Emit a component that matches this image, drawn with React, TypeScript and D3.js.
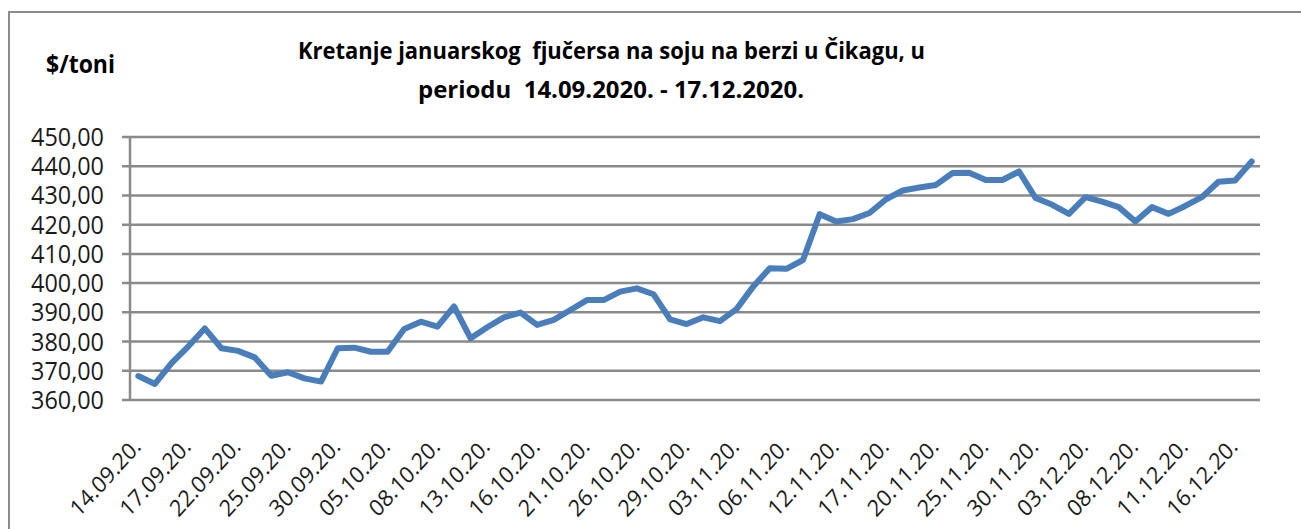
import React from "react";
import * as d3 from "d3";

const dates: string[] = [
  "14.09.20.", "15.09.20.", "16.09.20.", "17.09.20.", "18.09.20.", "21.09.20.", "22.09.20.", "23.09.20.", "24.09.20.", "25.09.20.",
  "28.09.20.", "29.09.20.", "30.09.20.",
  "01.10.20.", "02.10.20.", "05.10.20.", "06.10.20.", "07.10.20.", "08.10.20.", "09.10.20.", "12.10.20.", "13.10.20.", "14.10.20.",
  "15.10.20.", "16.10.20.", "19.10.20.", "20.10.20.", "21.10.20.", "22.10.20.", "23.10.20.", "26.10.20.", "27.10.20.", "28.10.20.",
  "29.10.20.", "30.10.20.",
  "02.11.20.", "03.11.20.", "04.11.20.", "05.11.20.", "06.11.20.", "09.11.20.", "10.11.20.", "12.11.20.", "13.11.20.", "16.11.20.",
  "17.11.20.", "18.11.20.", "19.11.20.", "20.11.20.", "23.11.20.", "24.11.20.", "25.11.20.", "26.11.20.", "27.11.20.", "30.11.20.",
  "01.12.20.", "02.12.20.", "03.12.20.", "04.12.20.", "07.12.20.", "08.12.20.", "09.12.20.", "10.12.20.", "11.12.20.", "14.12.20.",
  "15.12.20.", "16.12.20.", "17.12.20.",
];

const prices: number[] = [
  368.2, 365.5, 372.6, 378.3, 384.5, 377.7, 376.8, 374.6, 368.3, 369.5,
  367.4, 366.3, 377.7, 377.9, 376.5, 376.5, 384.3, 386.8, 385.1, 392.0,
  381.1, 384.9, 388.3, 389.9, 385.7, 387.4, 390.8, 394.2, 394.2, 397.1,
  398.2, 396.2, 387.6, 386.0, 388.3, 387.0, 391.1, 398.8, 405.1, 404.9,
  407.9, 423.6, 421.1, 421.9, 424.0, 428.7, 431.7, 432.7, 433.6, 437.7,
  437.8, 435.3, 435.3, 438.2, 429.1, 426.8, 423.7, 429.4, 427.9, 426.0,
  421.1, 426.0, 423.7, 426.4, 429.4, 434.7, 435.1, 441.6,
];

const yTicks: number[] = [360, 370, 380, 390, 400, 410, 420, 430, 440, 450];
const titleLine1 = "Kretanje januarskog  fjučersa na soju na berzi u Čikagu, u";
const titleLine2 = "periodu  14.09.2020. - 17.12.2020.";
const unitLabel = "$/toni";

const W = 1301;
const H = 529;
const plot = { left: 130, right: 1260, top: 137, bottom: 400 };
const gridColor = "#8a8a8a";
const lineColor = "#4a7ebb";
const font = "'Open Sans', 'DejaVu Sans', sans-serif";

export default function App() {
  const x = d3.scalePoint<string>().domain(dates).range([plot.left, plot.right]).padding(0.5);
  const y = d3.scaleLinear().domain([360, 450]).range([plot.bottom, plot.top]);
  const line = d3
    .line<number>()
    .x((_, i) => x(dates[i]) as number)
    .y((d) => y(d));
  const fmt = (v: number) => d3.format(".2f")(v).replace(".", ",");
  const shownDates = dates.filter((_, i) => i % 3 === 0);

  return (
    <svg
      width={W}
      height={H}
      style={{ position: "absolute", left: 0, top: 0, background: "#fff" }}
      fontFamily={font}
    >
      <rect x={0} y={0} width={W} height={H} fill="#fff" />
      {/* outer chart border (left and top visible) */}
      <path d={`M9,${H + 5} V12 H${W + 5}`} fill="none" stroke="#8c8c8c" strokeWidth={2} />

      {/* titles */}
      <text
        transform="translate(298,59) scale(1,1.12)"
        fontSize={21}
        fontWeight="bold"
        fill="#000"
        textLength={627}
        lengthAdjust="spacingAndGlyphs"
        style={{ whiteSpace: "pre" }}
      >
        {titleLine1}
      </text>
      <text
        transform="translate(418,98) scale(1,1.12)"
        fontSize={21}
        fontWeight="bold"
        fill="#000"
        textLength={386}
        lengthAdjust="spacingAndGlyphs"
        style={{ whiteSpace: "pre" }}
      >
        {titleLine2}
      </text>
      <text
        transform="translate(46,73) scale(1,1.1)"
        fontSize={22}
        fontWeight="bold"
        fill="#000"
        textLength={69}
        lengthAdjust="spacingAndGlyphs"
      >
        {unitLabel}
      </text>

      {/* gridlines */}
      {yTicks.map((t) => (
        <line
          key={`g${t}`}
          x1={plot.left - 8}
          x2={plot.right}
          y1={y(t)}
          y2={y(t)}
          stroke={gridColor}
          strokeWidth={2.5}
        />
      ))}
      <line x1={plot.left} x2={plot.left} y1={plot.top} y2={plot.bottom} stroke={gridColor} strokeWidth={2.5} />

      {/* y labels */}
      {yTicks.map((t) => (
        <text
          key={`l${t}`}
          transform={`translate(104,${y(t) + 9}) scale(1,1.12)`}
          fontSize={23}
          fill="#1a1a1a"
          textAnchor="end"
          textLength={73}
          lengthAdjust="spacingAndGlyphs"
        >
          {fmt(t)}
        </text>
      ))}

      {/* x labels */}
      {shownDates.map((d) => (
        <text
          key={d}
          transform={`translate(${(x(d) as number) + 4},448) scale(1,1.1) rotate(-45)`}
          fontSize={21}
          fill="#1a1a1a"
          textAnchor="end"
          textLength={90}
          lengthAdjust="spacingAndGlyphs"
        >
          {d}
        </text>
      ))}

      {/* series */}
      <path
        d={line(prices) || ""}
        fill="none"
        stroke={lineColor}
        strokeWidth={6}
        strokeLinejoin="round"
        strokeLinecap="round"
      />
    </svg>
  );
}
